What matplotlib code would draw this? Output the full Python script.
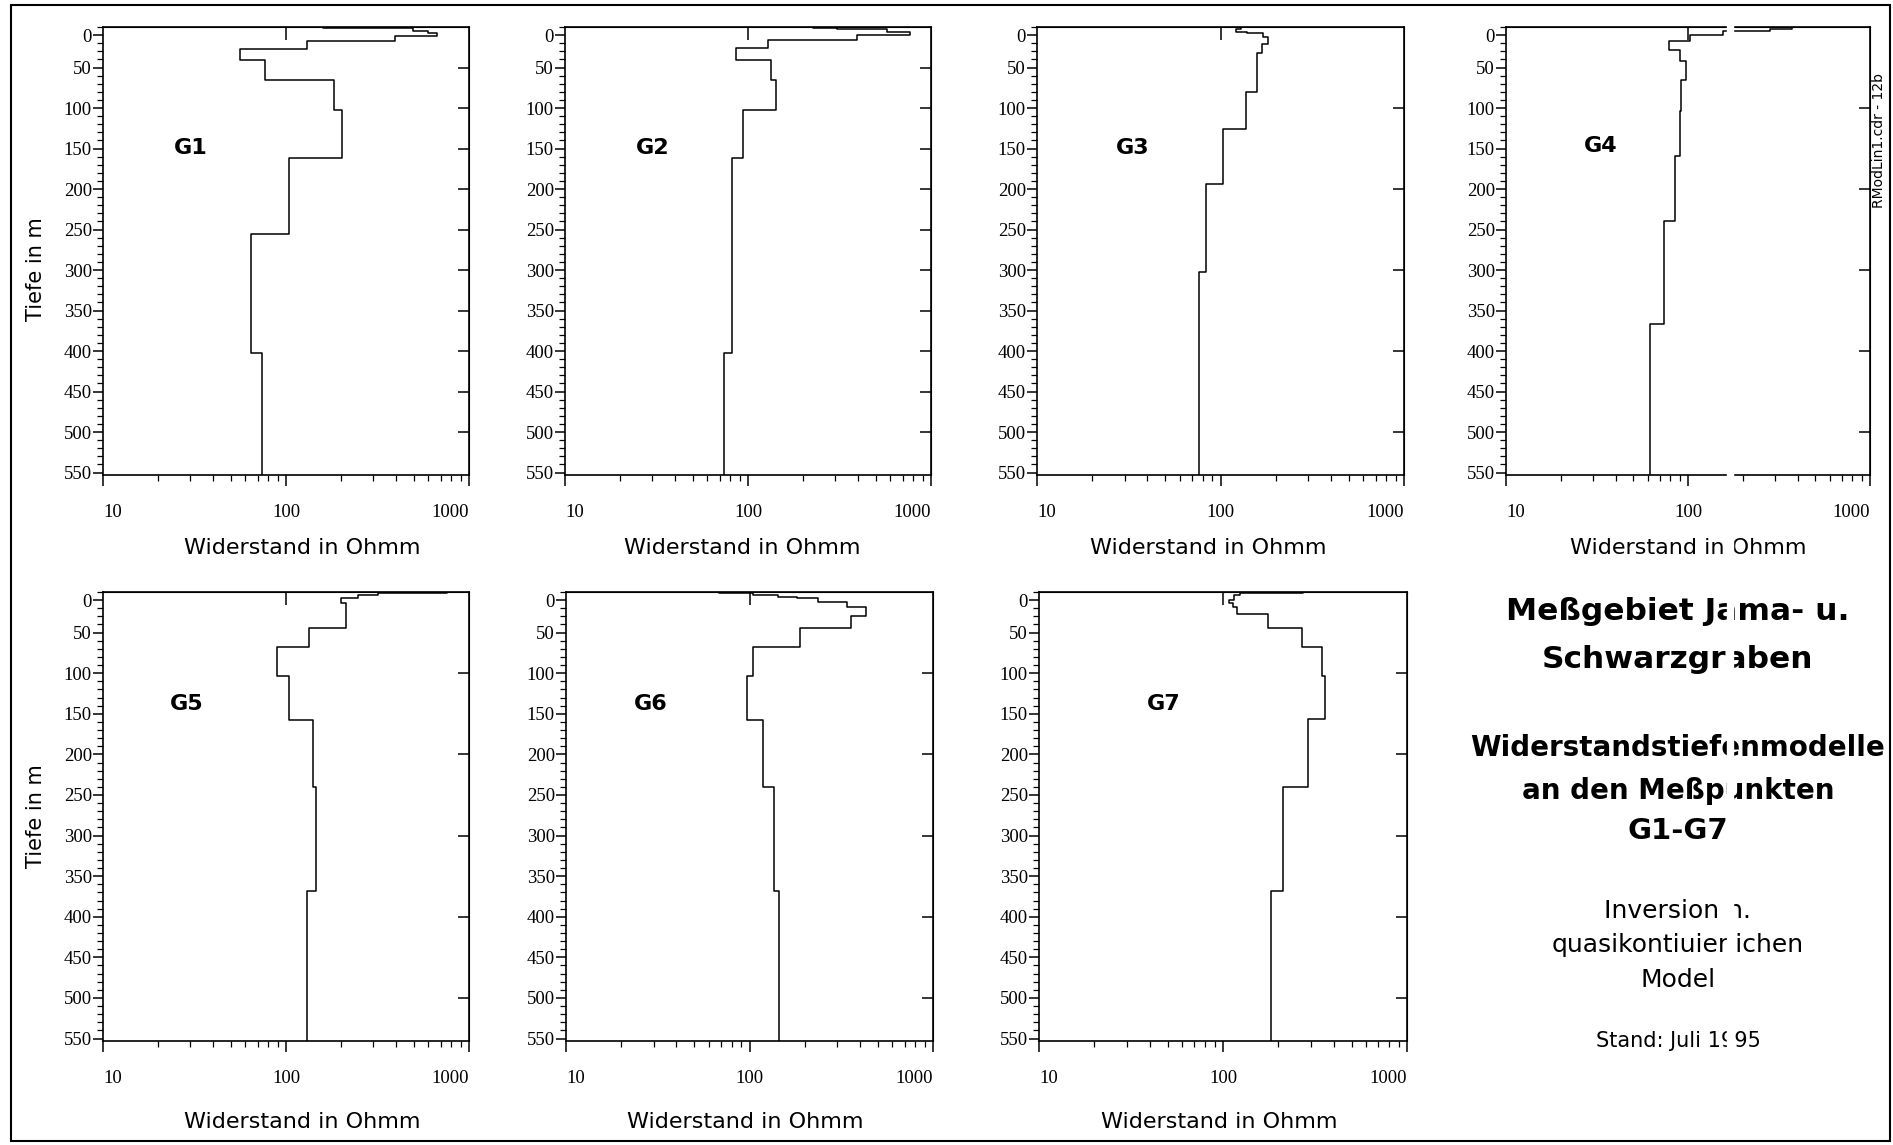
import numpy as np
import matplotlib.pyplot as plt
from matplotlib.patches import Rectangle
from matplotlib.ticker import FixedLocator, FixedFormatter, LogLocator, MultipleLocator, NullFormatter, NullLocator

# layer resistivities (Ohmm) and depth of each layer base (m)
names = ['G1', 'G2', 'G3', 'G4', 'G5', 'G6', 'G7']

rho_g1 = [160, 497, 600, 666, 394, 130, 56, 77, 183, 203, 104, 64.5, 74]
base_g1 = [1, 4.5, 7.8, 11, 17, 27, 41, 66, 103, 162, 256, 403, 600]

rho_g2 = [227, 305, 573, 768, 393, 128, 86, 134, 143, 94, 82, 74]
base_g2 = [1.6, 2.9, 5.7, 9.8, 16, 25.4, 40.6, 65, 102, 162, 403, 600]

rho_g3 = [130, 122, 139, 171, 182, 168, 159, 138, 103, 83, 76]
base_g3 = [2, 5.7, 7.8, 11.9, 21.3, 32.4, 80.8, 125.5, 194.4, 302.5, 600]

rho_g4 = [371, 282, 156, 102, 78.7, 90.4, 97, 92, 90.4, 84.5, 73.6, 62]
base_g4 = [3, 5, 9.5, 17.5, 28, 42.5, 66, 104, 159, 239, 367, 600]

rho_g5 = [755, 320, 248, 201, 212, 134, 89, 104, 140, 146, 131]
base_g5 = [1, 3.7, 7.8, 14, 44.7, 68, 103, 158, 240, 368, 600]

rho_g6 = [68, 105, 143, 181, 237, 339, 431, 356, 188, 105, 96.6, 118, 136, 144]
base_g6 = [1, 3.7, 5.7, 7.8, 12.7, 18.8, 29, 44.7, 68, 103, 158, 240, 368, 600]

rho_g7 = [273, 124, 115, 108, 113, 119, 175, 270, 347, 358, 289, 213, 183]
base_g7 = [1, 3.7, 9.8, 14, 18, 27.5, 44, 67.3, 103, 156.7, 240, 368, 600]

rho = [rho_g1, rho_g2, rho_g3, rho_g4, rho_g5, rho_g6, rho_g7]
base = [base_g1, base_g2, base_g3, base_g4, base_g5, base_g6, base_g7]

x_ticks = [10, 100, 1000]
x_ticklabels = ['10', '100', '1000']
y_ticks = [10] + list(range(50, 551, 50))
y_ticklabels = ['0'] + [str(v) for v in range(50, 551, 50)]

W, H = 1893, 1145
fig = plt.figure(figsize=(W / 100, H / 100), dpi=100)

# panel boxes in pixels: left, right, top, bottom
boxes = [(103, 469, 27, 475), (565, 931, 27, 475), (1037, 1404, 27, 475), (1506, 1870, 27, 475),
         (103, 469, 592, 1041), (566, 933, 592, 1041), (1039, 1407, 592, 1041)]
name_pos = [(0.24, 0.73), (0.24, 0.73), (0.26, 0.73), (0.26, 0.735),
            (0.23, 0.75), (0.23, 0.75), (0.34, 0.75)]
xlabel_x = [0.544, 0.484, 0.466, 0.5, 0.544, 0.489, 0.489]
right_step = [50, 50, 100, 100, 100, 100, 100]

sans = 'DejaVu Sans'
serif = 'Liberation Serif'

for i in range(7):
    l, r, t, b = boxes[i]
    ax = fig.add_axes([l / W, 1 - b / H, (r - l) / W, (b - t) / H])

    v = np.array(rho[i], dtype=float)
    z = np.array(base[i], dtype=float)
    tops = np.concatenate([[0], z[:-1]])
    xs = np.repeat(v, 2)
    ys = np.column_stack([tops, z]).ravel()
    ax.plot(xs, ys, color='black', lw=1.1)

    ax.set_xscale('log')
    ax.set_xlim(10, 1000)
    ax.set_ylim(553, 0)

    ax.xaxis.set_major_locator(FixedLocator(x_ticks))
    ax.xaxis.set_major_formatter(FixedFormatter(x_ticklabels))
    ax.xaxis.set_minor_locator(LogLocator(subs=np.arange(2, 10)))
    ax.xaxis.set_minor_formatter(NullFormatter())
    ax.yaxis.set_major_locator(FixedLocator(y_ticks))
    ax.yaxis.set_major_formatter(FixedFormatter(y_ticklabels))
    ax.yaxis.set_minor_locator(MultipleLocator(10))

    ax.tick_params(axis='x', which='major', direction='out', length=8, width=1.1, top=False, pad=13)
    ax.tick_params(axis='x', which='minor', direction='out', length=4, width=0.9, top=False)
    ax.tick_params(axis='y', which='major', direction='out', length=7, width=1.1, right=False, pad=1)
    ax.tick_params(axis='y', which='minor', direction='out', length=4, width=0.9, right=False)
    for lab in ax.get_xticklabels() + ax.get_yticklabels():
        lab.set_family(serif)
        lab.set_fontsize(13.5)
    xl = ax.get_xticklabels()
    xl[0].set_ha('left')
    xl[2].set_ha('right')

    for s in ax.spines.values():
        s.set_linewidth(1.2)

    top = ax.secondary_xaxis('top')
    top.xaxis.set_major_locator(FixedLocator([100]))
    top.xaxis.set_minor_locator(NullLocator())
    top.tick_params(direction='in', length=9, width=1.1, labeltop=False)

    right = ax.secondary_yaxis('right')
    right.yaxis.set_major_locator(FixedLocator(list(range(right_step[i], 501, right_step[i]))))
    right.yaxis.set_minor_locator(NullLocator())
    right.tick_params(direction='in', length=8, width=1.1, labelright=False)

    ax.set_xlabel('Widerstand in Ohmm', fontsize=16, family=sans)
    ax.xaxis.set_label_coords(xlabel_x[i], -0.163 if i < 4 else -0.18)
    ax.xaxis.label.set_va('center')
    if i in (0, 4):
        ax.set_ylabel('Tiefe in m', fontsize=15, family=sans)
        ax.yaxis.set_label_coords(-0.183, 0.46 if i == 0 else 0.5)
        ax.yaxis.label.set_va('center')

    ax.text(name_pos[i][0], name_pos[i][1], names[i], transform=ax.transAxes,
            fontsize=16, fontweight='bold', family=sans, ha='center', va='center')

# title block
cx = 1678 / W
title_lines = [('Meßgebiet Jama- u.', 612, 22.5, 'bold'),
               ('Schwarzgraben', 660, 22.5, 'bold'),
               ('Widerstandstiefenmodelle', 748, 20, 'bold'),
               ('an den Meßpunkten', 791, 20, 'bold'),
               ('G1-G7', 831, 21, 'bold'),
               ('Inversion n.', 911, 18, 'normal'),
               ('quasikontiuierlichen', 945, 18, 'normal'),
               ('Model', 980, 18, 'normal'),
               ('Stand: Juli 1995', 1041, 15, 'normal')]
for txt, y, fs, fw in title_lines:
    fig.text(cx, 1 - y / H, txt, ha='center', va='center', fontsize=fs, fontweight=fw, family=sans)

fig.text(1879 / W, 1 - 140 / H, 'RModLin1.cdr - 12b', rotation=90, ha='center', va='center',
         fontsize=10, family=sans)

# scan stripe and page frame
fig.add_artist(Rectangle((1727 / W, 1 - 1138 / H), 6 / W, (1138 - 18) / H,
                         transform=fig.transFigure, color='white', zorder=20))
fig.add_artist(Rectangle((11 / W, 1 - 1141 / H), (1890 - 11) / W, (1141 - 5) / H,
                         transform=fig.transFigure, fill=False, lw=1.5, color='black', zorder=21))

fig.savefig('out.png', dpi=100, facecolor='white')
